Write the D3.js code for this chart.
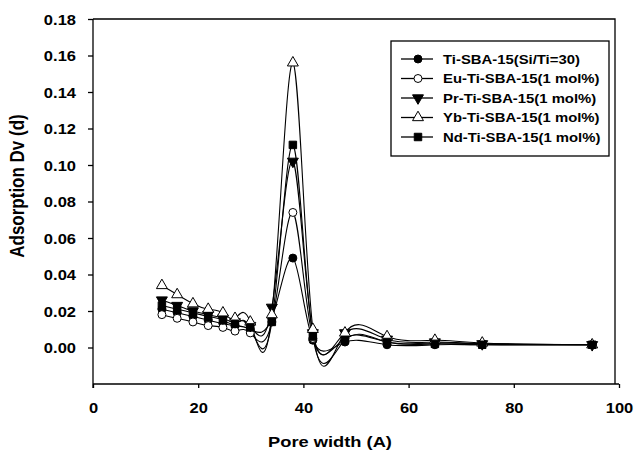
<!DOCTYPE html>
<html>
<head>
<meta charset="utf-8">
<script src="https://cdn.jsdelivr.net/npm/d3@7"></script>
<style>
  body { margin: 0; background: #fff; }
  svg { display: block; }
  text { font-family: "Liberation Sans", Arial, sans-serif; font-weight: bold; fill: #000; }
</style>
</head>
<body>
<svg id="chart" width="634" height="454"></svg>
<script>
// pore width (A) of each measured point
const poreWidth = [13.1, 16.0, 19.0, 21.9, 24.7, 27.0, 29.9, 34.0, 38.0, 41.8, 47.9, 55.9, 65.0, 74.0, 94.9];

const tiSba   = [0.021, 0.019, 0.017, 0.015, 0.013, 0.012, 0.010, 0.016, 0.049, 0.004, 0.003, 0.0015, 0.0015, 0.0015, 0.0015];
const euTiSba = [0.018, 0.016, 0.014, 0.012, 0.011, 0.009, 0.008, 0.014, 0.074, 0.005, 0.005, 0.003, 0.0025, 0.002, 0.0015];
const prTiSba = [0.026, 0.023, 0.020, 0.018, 0.016, 0.014, 0.012, 0.022, 0.102, 0.008, 0.008, 0.0045, 0.003, 0.002, 0.0015];
const ybTiSba = [0.034, 0.029, 0.024, 0.021, 0.019, 0.016, 0.014, 0.018, 0.156, 0.010, 0.008, 0.006, 0.004, 0.0025, 0.0015];
const ndTiSba = [0.023, 0.021, 0.019, 0.017, 0.015, 0.013, 0.011, 0.014, 0.111, 0.006, 0.004, 0.003, 0.002, 0.0015, 0.0015];

const seriesNames = ["Ti-SBA-15(Si/Ti=30)", "Eu-Ti-SBA-15(1 mol%)", "Pr-Ti-SBA-15(1 mol%)", "Yb-Ti-SBA-15(1 mol%)", "Nd-Ti-SBA-15(1 mol%)"];
const xTicks = [0, 20, 40, 60, 80, 100];
const yTicks = [0.00, 0.02, 0.04, 0.06, 0.08, 0.10, 0.12, 0.14, 0.16, 0.18];

// marker look per series
const markers = [
  { type: d3.symbolCircle, size: 50, fill: "#000", rot: 0 },
  { type: d3.symbolCircle, size: 50, fill: "#fff", rot: 0 },
  { type: d3.symbolTriangle, size: 52, fill: "#000", rot: 180 },
  { type: d3.symbolTriangle, size: 52, fill: "#fff", rot: 0 },
  { type: d3.symbolSquare, size: 56, fill: "#000", rot: 0 },
];

const allValues = [tiSba, euTiSba, prTiSba, ybTiSba, ndTiSba];
const series = seriesNames.map((name, i) => ({
  name: name,
  marker: markers[i],
  points: poreWidth.map((w, j) => ({ x: w, y: allValues[i][j] }))
}));

const svg = d3.select("#chart");
const mLeft = 93, mRight = 619, mTop = 19, mBottom = 384;
const frameRight = 615;
const stretch = 1.18; // the text in the picture is a bit wide

const x = d3.scaleLinear().domain([0, 100]).range([mLeft, mRight]);
const y = d3.scaleLinear().domain([-0.02, 0.18]).range([mBottom, mTop]);

// frame
svg.append("path")
  .attr("d", `M${mLeft},${mTop}H${frameRight}V${mBottom}`)
  .attr("fill", "none").attr("stroke", "#000").attr("stroke-width", 1.3);

// x axis
const xAxis = svg.append("g").attr("transform", `translate(0,${mBottom})`)
  .call(d3.axisBottom(x).tickValues(xTicks).tickSize(4).tickFormat(d3.format("d")));
xAxis.select(".domain").attr("d", `M${mLeft},0H${mRight}`).attr("stroke-width", 1.3);
xAxis.selectAll(".tick line").attr("stroke-width", 1.3);
xAxis.selectAll(".tick text").remove();
xAxis.selectAll(".tick").append("text")
  .attr("transform", `translate(0,29) scale(${stretch},1)`)
  .attr("text-anchor", "middle")
  .style("font-size", "14px")
  .text(d => d);

// y axis
const yAxis = svg.append("g").attr("transform", `translate(${mLeft},0)`)
  .call(d3.axisLeft(y).tickValues(yTicks).tickSize(5));
yAxis.select(".domain").attr("d", `M0,${mTop}V${mBottom + 4}`).attr("stroke-width", 1.3);
yAxis.selectAll(".tick line").attr("stroke-width", 1.3);
yAxis.selectAll(".tick text").remove();
yAxis.selectAll(".tick").append("text")
  .attr("transform", `translate(-17,5) scale(${stretch},1)`)
  .attr("text-anchor", "end")
  .style("font-size", "14px")
  .text(d => d3.format(".2f")(d));

// axis titles
svg.append("text")
  .attr("transform", `translate(330,447) scale(${stretch},1)`)
  .attr("text-anchor", "middle")
  .style("font-size", "15.5px")
  .text("Pore width (A)");

svg.append("text")
  .attr("transform", `translate(24,186) scale(${stretch},1) rotate(-90)`)
  .attr("text-anchor", "middle")
  .style("font-size", "17px")
  .text("Adsorption Dv (d)");

// curves
const line = d3.line()
  .x(d => x(d.x))
  .y(d => y(d.y))
  .curve(d3.curveNatural);

const plot = svg.append("g");
series.forEach(s => {
  plot.append("path")
    .attr("d", line(s.points))
    .attr("fill", "none")
    .attr("stroke", "#000")
    .attr("stroke-width", 1.1);
});

series.forEach(s => {
  plot.selectAll(null)
    .data(s.points)
    .enter()
    .append("path")
    .attr("d", d3.symbol().type(s.marker.type).size(s.marker.size))
    .attr("transform", d => `translate(${x(d.x)},${y(d.y)}) rotate(${s.marker.rot})`)
    .attr("fill", s.marker.fill)
    .attr("stroke", "#000")
    .attr("stroke-width", 1);
});

// legend
const legend = svg.append("g").attr("transform", "translate(391,41)");
legend.append("rect")
  .attr("width", 218).attr("height", 115)
  .attr("fill", "#fff").attr("stroke", "#000").attr("stroke-width", 1.3);

series.forEach((s, i) => {
  const row = legend.append("g").attr("transform", `translate(0,${18 + i * 19.5})`);
  row.append("line")
    .attr("x1", 10).attr("x2", 42)
    .attr("stroke", "#000").attr("stroke-width", 1.3);
  row.append("path")
    .attr("d", d3.symbol().type(s.marker.type).size(s.marker.size))
    .attr("transform", `translate(27,0) rotate(${s.marker.rot})`)
    .attr("fill", s.marker.fill)
    .attr("stroke", "#000")
    .attr("stroke-width", 1);
  row.append("text")
    .attr("transform", `translate(52,4.5) scale(${stretch},1)`)
    .style("font-size", "12.6px")
    .text(s.name);
});
</script>
</body>
</html>
